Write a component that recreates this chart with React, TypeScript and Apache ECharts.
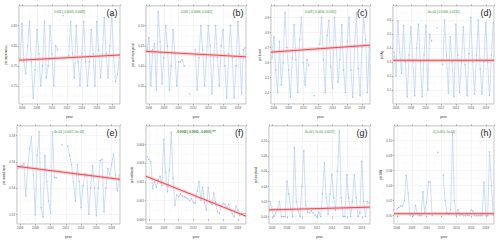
import React, { useEffect, useRef } from "react";
import * as echarts from "echarts";

// quarterly time stamps (decimal years)
const years = [
  2005.75,
  2006, 2006.25, 2006.5, 2006.75,
  2007, 2007.25, 2007.5, 2007.75,
  2008, 2008.25, 2008.5, 2008.75,
  2009, 2009.25, 2009.5, 2009.75,
  2010, 2010.25, 2010.5, 2010.75,
  2011, 2011.25, 2011.5, 2011.75,
  2012, 2012.25, 2012.5, 2012.75,
  2013, 2013.25, 2013.5, 2013.75,
  2014, 2014.25, 2014.5, 2014.75,
  2015, 2015.25, 2015.5, 2015.75,
  2016, 2016.25, 2016.5, 2016.75,
  2017, 2017.25, 2017.5, 2017.75,
  2018, 2018.25, 2018.5, 2018.75,
  2019,
];

const valuesA = [
  0.77,
  0.855, 0.76, 0.73, 0.8,
  0.86, 0.76, 0.67, 0.74,
  0.84, 0.78, 0.7, 0.75,
  0.86, 0.72, 0.75, 0.85,
  0.78, 0.7, 0.8, 0.79,
  null, null, 0.875, null,
  null, 0.775, 0.86, 0.78,
  0.72, 0.85, 0.76, 0.7,
  0.78, 0.86, 0.76, 0.7,
  0.76, 0.84, 0.78, 0.7,
  0.86, 0.79, 0.72, 0.78,
  0.87, 0.78, 0.72, 0.8,
  0.88, 0.77, 0.71, 0.73,
  0.77,
];
const valuesB = [
  0.44,
  0.47, 0.35, 0.44, 0.455,
  0.34, 0.535, 0.46, 0.355,
  0.42, 0.5, 0.45, 0.34,
  0.4, 0.49, 0.43, 0.35,
  0.41, 0.41, 0.415, 0.4,
  null, null, 0.33, null,
  null, 0.44, 0.34, 0.42,
  0.5, 0.44, 0.35, 0.42,
  0.5, 0.45, 0.33, 0.42,
  0.5, 0.42, 0.35, 0.45,
  0.49, 0.4, 0.32, 0.43,
  0.5, 0.42, 0.32, 0.4,
  0.51, 0.43, 0.33, 0.44,
  0.445,
];
const valuesC = [
  0.63,
  0.77, 0.55, 0.4, 0.74,
  0.45, 0.6, 0.93, 0.7,
  0.55, 0.37, 0.63, 0.85,
  0.62, 0.4, 0.75, 0.9,
  0.6, 0.45, 0.62, 0.58,
  null, null, 0.38, null,
  null, 0.72, 0.9, 0.62,
  0.4, 0.78, 0.88, 0.57,
  0.43, 0.9, 0.7, 0.47,
  0.62, 0.85, 0.55, 0.4,
  0.74, 0.9, 0.55, 0.37,
  0.71, 0.93, 0.56, 0.38,
  0.7, 0.9, 0.75, 0.4,
  0.7,
];
const valuesD = [
  0.37,
  0.2, 0.595, 0.37, 0.22,
  0.56, 0.3, 0.05, 0.35,
  0.55, 0.3, 0.06, 0.4,
  0.57, 0.3, 0.05, 0.35,
  0.56, 0.1, 0.5, 0.45,
  null, null, 0.545, null,
  null, 0.28, 0.6, 0.35,
  0.08, 0.48, 0.3, 0.05,
  0.57, 0.35, 0.08, 0.3,
  0.55, 0.28, 0.06, 0.36,
  0.62, 0.3, 0.07, 0.35,
  0.6, 0.25, 0.07, 0.3,
  0.58, 0.3, 0.06, 0.35,
  0.58,
];
const valuesE = [
  0.555,
  0.556, 0.557, 0.559, 0.534,
  0.556, 0.57, 0.579, 0.55,
  0.5195, 0.565, 0.583, 0.525,
  0.518, 0.565, 0.545, 0.53,
  0.521, 0.583, 0.548, 0.548,
  null, null, 0.573, null,
  null, 0.572, 0.565, 0.558,
  0.545, 0.53, 0.558, 0.545,
  0.525, 0.542, 0.551, 0.55,
  0.52, 0.54, 0.557, 0.54,
  0.519, 0.54, 0.561, 0.562,
  0.522, 0.54, 0.555, 0.55,
  0.558, 0.566, 0.55, 0.538,
  0.55,
];
const valuesF = [
  0.00334,
  0.0032, 0.00307, 0.00165, 0.002,
  0.0017, 0.0021, 0.0023, 0.0018,
  0.00427, 0.0025, 0.00147, 0.0026,
  0.00464, 0.0022, 0.00076, 0.0013,
  0.0012, 0.00135, 0.00125, 0.0012,
  0.00115, 0.0011, 0.001, 0.0011,
  0.0009, 0.00085, 0.0015, 0.002,
  0.001, 0.0017, 0.0009, 0.0005,
  0.0017, 0.0009, 0.0008, 0.0014,
  0.0009, 0.0004, 0.00032, 0.0007,
  0.00085, 0.0008, 0.0006, 0.0008,
  0.0005, 0.0003, 0.00014, 0.0007,
  0.0005, 0.0002, 0.0003, 0.0003,
  0.00032,
];
const valuesG = [
  0.02,
  0.009, 0.0, 0.005, 0.01,
  0.02, 0.0, 0.0, 0.0,
  0.047, 0.03, 0.01, 0.0,
  0.091, 0.02, 0.008, 0.0,
  0.04, 0.087, 0.015, 0.006,
  0.005, 0.008, 0.005, 0.002,
  0.0, 0.006, 0.0, 0.03,
  0.071, 0.025, 0.003, 0.03,
  0.056, 0.025, 0.008, 0.06,
  0.113, 0.025, 0.0, 0.0,
  0.055, 0.025, 0.0, 0.02,
  0.055, 0.025, 0.0, 0.005,
  0.073, 0.02, 0.0, 0.02,
  0.018,
];
const valuesH = [
  null,
  0.009, 0.011, 0.013, 0.013,
  0.02, 0.054, 0.03, 0.0,
  0.002, 0.0, 0.014, 0.003,
  0.0, 0.0, 0.032, 0.004,
  0.018, 0.045, 0.045, 0.0,
  null, null, 0.0845, null,
  null, 0.054, 0.02, 0.004,
  0.002, 0.008, 0.11, 0.02,
  0.0, 0.008, 0.0, 0.002,
  0.0, 0.0, 0.001, 0.0,
  0.008, 0.006, 0.0, 0.0,
  0.0, 0.0, 0.0, 0.045,
  0.0, 0.0, 0.085, 0.04,
  0.0,
];

// fitted trend (value at start, value at end of x range)
const trendA = [0.764, 0.777];
const trendB = [0.436, 0.4225];
const trendC = [0.669, 0.715];
const trendD = [0.312, 0.312];
const trendE = [0.5566, 0.5467];
const trendF = [0.0023, 0.00017];
const trendG = [0.0089, 0.0125];
const trendH = [0.0027, 0.0027];

const panelLabels = ["(a)", "(b)", "(c)", "(d)", "(e)", "(f)", "(g)", "(h)"];
const slopeTexts = [
  "0.001 [-0.0043, 0.0048]",
  "-0.001 [-0.0066, 0.0042]",
  "0.003 [-0.0034, 0.0102]",
  "0e+00 [-0.0106, 0.0110]",
  "-8e-04 [-0.0021, 6e-04]",
  "-0.0002 [-0.0003, -0.0001] ***",
  "3e-04 [-7e-04, 0.0017]",
  "0 [-0.001, 5e-04]",
];
const yNames = [
  "pct.impervious",
  "pct.anthropogenic",
  "pct.forest",
  "pct.Ag",
  "pct.mixed.land",
  "pct.wetlands",
  "pct.cropland",
  "pct.GW",
];
const xName = "year";

// axis scale ranges
const xMin = 2005.6;
const xMax = 2019.1;
const yMins = [0.655, 0.305, 0.325, 0, 0.5126, -0.00025, -0.0097, -0.011];
const yMaxs = [0.899, 0.549, 0.975, 0.7, 0.5874, 0.00498, 0.1195, 0.1196];
const ySplits = [5, 5, 6, 7, 4, 5, 6, 6];
const yDecimals = [2, 2, 1, 1, 2, 3, 2, 2];

// layout
const gridLefts = [19, 146, 271, 393, 17, 146, 269, 394];
const gridWidths = [101, 100, 99, 101, 103, 100, 101, 100];
const gridTops = [6, 6, 6, 6, 126, 126, 126, 126];
const gridHeight = 98;

const allValues = [valuesA, valuesB, valuesC, valuesD, valuesE, valuesF, valuesG, valuesH];
const allTrends = [trendA, trendB, trendC, trendD, trendE, trendF, trendG, trendH];

const FONT = "Liberation Sans, Arial, sans-serif";

export default function App() {
  const ref = useRef<HTMLDivElement>(null);

  useEffect(() => {
    if (!ref.current) return;
    const chart = echarts.init(ref.current, undefined, { renderer: "svg" });

    const grid: any[] = [];
    const xAxis: any[] = [];
    const yAxis: any[] = [];
    const series: any[] = [];
    const graphic: any[] = [];

    for (let i = 0; i < 8; i++) {
      grid.push({
        left: gridLefts[i],
        top: gridTops[i],
        width: gridWidths[i],
        height: gridHeight,
        show: true,
        borderColor: "#8a8a8a",
        borderWidth: 0.6,
        backgroundColor: "#ffffff",
        containLabel: false,
      });
      xAxis.push({
        type: "value",
        gridIndex: i,
        position: "bottom",
        min: xMin,
        max: xMax,
        splitNumber: 7,
        name: xName,
        nameLocation: "middle",
        nameGap: 10.5,
        nameTextStyle: { fontSize: 3.5, color: "#333", fontFamily: FONT },
        axisLine: { show: false },
        axisTick: { show: true, length: 1.5, lineStyle: { color: "#666", width: 0.5 } },
        axisLabel: {
          show: true,
          fontSize: 3,
          color: "#555",
          margin: 2,
          fontFamily: FONT,
          showMinLabel: false,
          showMaxLabel: false,
          formatter: (v: number) => String(Math.round(v)),
        },
        splitLine: { show: true, lineStyle: { color: "#ebebeb", width: 0.5 } },
        minorTick: { show: false, splitNumber: 2 },
        minorSplitLine: { show: true, lineStyle: { color: "#f5f5f5", width: 0.4 } },
      });
      xAxis.push({
        type: "value",
        gridIndex: i,
        position: "top",
        min: xMin,
        max: xMax,
        splitNumber: 7,
        axisLine: { show: false },
        axisTick: { show: true, length: 1.5, lineStyle: { color: "#666", width: 0.5 } },
        axisLabel: { show: false },
        splitLine: { show: false },
      });
      const dec = yDecimals[i];
      yAxis.push({
        type: "value",
        gridIndex: i,
        min: yMins[i],
        max: yMaxs[i],
        splitNumber: ySplits[i],
        name: yNames[i],
        nameLocation: "middle",
        nameGap: 8.5,
        nameTextStyle: { fontSize: 3, color: "#333", fontFamily: FONT },
        axisLine: { show: false },
        axisTick: { show: true, length: 1.2, lineStyle: { color: "#666", width: 0.5 } },
        axisLabel: {
          show: true,
          fontSize: 3,
          color: "#555",
          margin: 1.8,
          fontFamily: FONT,
          showMinLabel: false,
          showMaxLabel: false,
          formatter: (v: number) => v.toFixed(dec),
        },
        splitLine: { show: true, lineStyle: { color: "#ebebeb", width: 0.5 } },
        minorTick: { show: false, splitNumber: 2 },
        minorSplitLine: { show: true, lineStyle: { color: "#f5f5f5", width: 0.4 } },
      });

      const vals = allValues[i];
      series.push({
        type: "line",
        xAxisIndex: 2 * i,
        yAxisIndex: i,
        data: years.map((x, j) => [x, vals[j] === null ? "-" : vals[j]]),
        connectNulls: false,
        showSymbol: true,
        symbol: "circle",
        symbolSize: 1.4,
        itemStyle: { color: "#a3c1f0" },
        lineStyle: { color: "#b8d0f5", width: 0.7 },
        z: 2,
        silent: true,
      });
      const tr = allTrends[i];
      series.push({
        type: "line",
        xAxisIndex: 2 * i,
        yAxisIndex: i,
        data: [[xMin, tr[0]], [xMax, tr[1]]],
        showSymbol: false,
        lineStyle: { color: "rgba(250,150,160,0.45)", width: 3.2 },
        z: 3,
        silent: true,
      });
      series.push({
        type: "line",
        xAxisIndex: 2 * i,
        yAxisIndex: i,
        data: [[xMin, tr[0]], [xMax, tr[1]]],
        showSymbol: false,
        lineStyle: { color: "#ef4a4a", width: 1 },
        z: 4,
        silent: true,
      });

      graphic.push({
        type: "text",
        x: gridLefts[i] + gridWidths[i] / 2,
        y: gridTops[i] + 5.6,
        z: 10,
        style: {
          text: slopeTexts[i],
          fill: i === 5 ? "#207a20" : "#2f8f2f",
          fontSize: 3,
          fontWeight: i === 5 ? "bold" : "normal",
          fontFamily: FONT,
          textAlign: "center",
          textVerticalAlign: "middle",
          align: "center",
          verticalAlign: "middle",
        },
      });
      graphic.push({
        type: "text",
        x: gridLefts[i] + gridWidths[i] - 2.5,
        y: gridTops[i] + 7.2,
        z: 10,
        style: {
          text: panelLabels[i],
          fill: "#222",
          fontSize: 9,
          fontFamily: FONT,
          textAlign: "right",
          textVerticalAlign: "middle",
          align: "right",
          verticalAlign: "middle",
        },
      });
    }

    chart.setOption({
      animation: false,
      backgroundColor: "#ffffff",
      grid,
      xAxis,
      yAxis,
      series,
      graphic,
    });

    return () => chart.dispose();
  }, []);

  return (
    <div
      ref={ref}
      style={{ position: "fixed", left: 0, top: 0, width: 500, height: 240 }}
    />
  );
}
